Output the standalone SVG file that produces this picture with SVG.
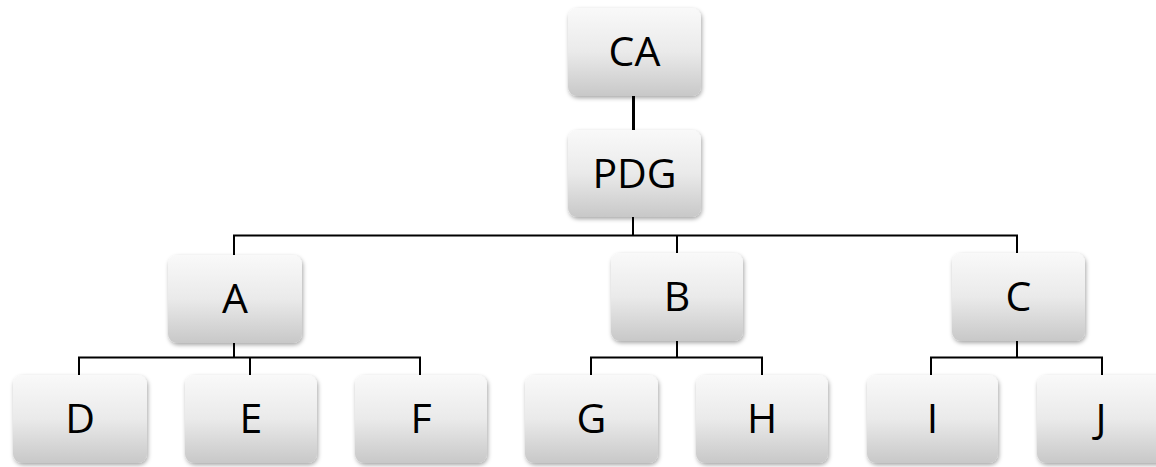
<svg xmlns="http://www.w3.org/2000/svg" width="1156" height="467" viewBox="0 0 1156 467">
<defs>
<linearGradient id="g" x1="0" y1="0" x2="0" y2="1">
<stop offset="0" stop-color="#f9f9f9"/>
<stop offset="0.5" stop-color="#eaeaea"/>
<stop offset="1" stop-color="#c8c8c8"/>
</linearGradient>
<filter id="sh" x="-10%" y="-10%" width="125%" height="130%">
<feDropShadow dx="1" dy="2" stdDeviation="2" flood-color="#000" flood-opacity="0.35"/>
</filter>
</defs>
<style>
.box{fill:url(#g);filter:url(#sh)}
.lbl{font-family:"Open Sans","Noto Sans",sans-serif;font-size:41px;fill:#000;text-anchor:middle}
.c{stroke:#000;stroke-width:2;fill:none}
</style>
<rect width="1156" height="467" fill="#fff"/>
<g id="connectors">
<line class="c" x1="633.5" y1="96" x2="633.5" y2="130" style="stroke-width:3"/>
<polyline class="c" points="633,217 633,235.5"/>
<polyline class="c" points="234,255 234,235.5 1017,235.5 1017,253"/>
<line class="c" x1="677" y1="235.5" x2="677" y2="253"/>
<polyline class="c" points="234,343 234,357.5"/>
<polyline class="c" points="79,375 79,357.5 420,357.5 420,375"/>
<line class="c" x1="250" y1="357.5" x2="250" y2="375"/>
<line class="c" x1="677" y1="341" x2="677" y2="357.5"/>
<polyline class="c" points="591,375 591,357.5 762,357.5 762,375"/>
<line class="c" x1="1017" y1="341" x2="1017" y2="357.5"/>
<polyline class="c" points="931,375 931,357.5 1102,357.5 1102,375"/>
</g>
<g id="node-CA"><rect class="box" x="568" y="8" width="133" height="88" rx="9"/><text class="lbl" x="634.5" y="66">CA</text></g>
<g id="node-PDG"><rect class="box" x="568" y="130" width="133" height="87" rx="9"/><text class="lbl" x="634.5" y="187.5">PDG</text></g>
<g id="node-A"><rect class="box" x="168" y="255" width="134" height="88" rx="9"/><text class="lbl" x="235" y="312.5">A</text></g>
<g id="node-B"><rect class="box" x="611" y="253" width="132" height="88" rx="9"/><text class="lbl" x="677" y="311">B</text></g>
<g id="node-C"><rect class="box" x="952" y="253" width="133" height="88" rx="9"/><text class="lbl" x="1018.5" y="311">C</text></g>
<g id="node-D"><rect class="box" x="13" y="375" width="134" height="88" rx="9"/><text class="lbl" x="80" y="432.5">D</text></g>
<g id="node-E"><rect class="box" x="185" y="375" width="132" height="88" rx="9"/><text class="lbl" x="251" y="432.5">E</text></g>
<g id="node-F"><rect class="box" x="355" y="375" width="132" height="88" rx="9"/><text class="lbl" x="421" y="432.5">F</text></g>
<g id="node-G"><rect class="box" x="525" y="375" width="133" height="88" rx="9"/><text class="lbl" x="591.5" y="432.5">G</text></g>
<g id="node-H"><rect class="box" x="696" y="375" width="132" height="88" rx="9"/><text class="lbl" x="762" y="432.5">H</text></g>
<g id="node-I"><rect class="box" x="867" y="375" width="131" height="88" rx="9"/><text class="lbl" x="932.5" y="432.5">I</text></g>
<g id="node-J"><rect class="box" x="1037" y="375" width="133" height="88" rx="9"/><text class="lbl" x="1101" y="432.5">J</text></g>
</svg>
